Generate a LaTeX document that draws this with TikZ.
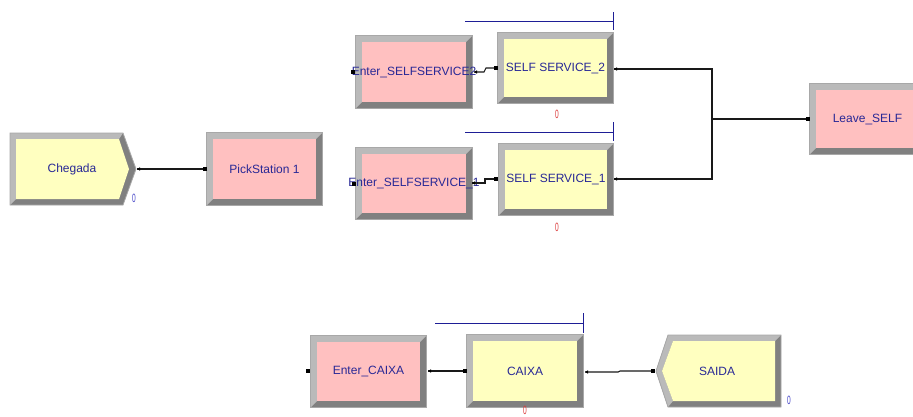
\documentclass[tikz,border=0pt]{standalone}
\usepackage{fontspec}
\setmainfont{Liberation Sans}
\definecolor{beveldark}{RGB}{128,128,128}
\definecolor{bevellight}{RGB}{186,186,186}
\definecolor{bevelrim}{RGB}{168,168,168}
\definecolor{pinkfill}{RGB}{255,192,192}
\definecolor{yellowfill}{RGB}{255,255,192}
\definecolor{labelblue}{RGB}{40,40,150}
\definecolor{queueblue}{RGB}{30,30,150}
\definecolor{countred}{RGB}{220,60,60}
\definecolor{countblue}{RGB}{70,70,200}

\tikzset{
  modframe/.style={rectangle, inner sep=0, draw=none, fill=beveldark},
  modtext/.style={text=labelblue, font=\fontsize{12}{14}\selectfont, inner sep=0},
  rim/.style={draw=bevelrim, line width=0.8pt},
  link/.style={draw=black!90, line width=1.1pt},
  queue/.style={draw=queueblue, line width=1pt},
  counter/.style={font=\fontsize{12}{12}\selectfont, inner sep=0, xscale=0.55},
}

% rectangular module with a bevelled frame: name, x, y, width, height, fill, text
\newcommand\arenabox[7]{%
  \node[modframe, minimum width=#4, minimum height=#5] (#1) at (#2,#3) {};
  \fill[bevellight] (#1.south west) -- (#1.north west) -- (#1.north east)
    -- ([shift={(-6,6)}]#1.north east) -- ([shift={(6,6)}]#1.north west)
    -- ([shift={(6,-6)}]#1.south west) -- cycle;
  \fill[#6] ([shift={(6,6)}]#1.north west) rectangle ([shift={(-6,-6)}]#1.south east);
  \draw[rim] (#1.north west) rectangle (#1.south east);
  \node[modtext] (#1-text) at (#1.center) {#7};
}
% entry point (square) and exit point (small triangle)
\newcommand\entrymark[1]{\fill[black] ([shift={(-2,-2)}]#1) rectangle ([shift={(2,2)}]#1);}
\newcommand\exitmark[1]{\fill[black] (#1) -- ([shift={(3,-1.7)}]#1) -- ([shift={(3,1.7)}]#1) -- cycle;}

\begin{document}
\begin{tikzpicture}[x=1pt, y=-1pt]
\useasboundingbox (0,0) rectangle (913,416);
\fill[white] (0,0) rectangle (913,416);

% ---- Create module: Chegada ----
\fill[beveldark] (10,133) -- (123,133) -- (136,169) -- (123,205) -- (10,205) -- cycle;
\fill[bevellight] (10,205) -- (10,133) -- (123,133) -- (119,139) -- (16,139) -- (16,199) -- cycle;
\fill[yellowfill] (16,139) -- (119,139) -- (129,169) -- (119,199) -- (16,199) -- cycle;
\draw[rim] (10,133) -- (123,133) -- (136,169) -- (123,205) -- (10,205) -- cycle;
\node[modtext] (chegada) at (72,169) {Chegada};

% ---- Dispose module: SAIDA ----
\fill[beveldark] (668,335) -- (781,335) -- (781,407) -- (668,407) -- (656,371) -- cycle;
\fill[bevellight] (656,371) -- (668,335) -- (781,335) -- (775,341) -- (673,341) -- (662,371) -- (673,401) -- (668,407) -- cycle;
\fill[yellowfill] (673,341) -- (775,341) -- (775,401) -- (673,401) -- (662,371) -- cycle;
\draw[rim] (668,335) -- (781,335) -- (781,407) -- (668,407) -- (656,371) -- cycle;
\node[modtext] (saida) at (717,371) {SAIDA};

% ---- rectangular modules ----
\arenabox{pick}{264.5}{169}{115}{72}{pinkfill}{PickStation 1}
\arenabox{enter2}{414}{72}{116}{72}{pinkfill}{Enter\_SELFSERVICE2}
\arenabox{self2}{555.5}{68}{115}{70}{yellowfill}{SELF SERVICE\_2}
\arenabox{enter1}{414}{183.5}{116}{71}{pinkfill}{Enter\_SELFSERVICE\_1}
\arenabox{self1}{556}{179.5}{114}{71}{yellowfill}{SELF SERVICE\_1}
\arenabox{leave}{867.5}{119}{115}{70}{pinkfill}{Leave\_SELF}
\arenabox{entercaixa}{368.5}{371.5}{115}{71}{pinkfill}{Enter\_CAIXA}
\arenabox{caixa}{525}{371}{116}{72}{yellowfill}{CAIXA}

% ---- ports ----
\coordinate (chegada-out) at (137,169);
\coordinate (pick-in) at (205,169);
\coordinate (enter2-in) at (353,72);
\coordinate (enter2-out) at (474,72);
\coordinate (self2-in) at (496,68);
\coordinate (self2-out) at (614,69);
\coordinate (enter1-in) at (354,184);
\coordinate (enter1-out) at (472,183);
\coordinate (self1-in) at (496,179);
\coordinate (self1-out) at (614,179);
\coordinate (join) at (712,119);
\coordinate (leave-in) at (808,119);
\coordinate (entercaixa-in) at (308,371);
\coordinate (entercaixa-out) at (428,371);
\coordinate (caixa-in) at (465,371);
\coordinate (caixa-out) at (585,372);
\coordinate (saida-in) at (653,371);

% ---- connectors ----
\draw[link] (chegada-out) -- (pick-in);
\draw[link] (enter2-out) -- ++(10,0) -- ++(2,-4) -- (self2-in);
\draw[link] (enter1-out) -- ++(13,0) -- ++(0,-4) -- (self1-in);
\draw[link] (self2-out) -| (join);
\draw[link] (self1-out) -| (join);
\draw[link] (join) -- (leave-in);
\draw[link] (entercaixa-out) -- (caixa-in);
\draw[link] (caixa-out) -- ++(33,0) -- ++(2,-1) -- (saida-in);

% ---- port markers ----
\entrymark{pick-in}
\entrymark{enter2-in}
\entrymark{self2-in}
\entrymark{enter1-in}
\entrymark{self1-in}
\entrymark{leave-in}
\entrymark{entercaixa-in}
\entrymark{caixa-in}
\entrymark{saida-in}
\exitmark{chegada-out}
\exitmark{enter2-out}
\exitmark{self2-out}
\exitmark{enter1-out}
\exitmark{self1-out}
\exitmark{entercaixa-out}
\exitmark{caixa-out}

% ---- queues ----
\coordinate (q2-start) at (465,21);
\coordinate (q2-end) at (613,21);
\coordinate (q1-start) at (465,132);
\coordinate (q1-end) at (613,132);
\coordinate (qc-start) at (435,323);
\coordinate (qc-end) at (583,323);
\draw[queue] (q2-start) -- (q2-end) (q2-end) ++(0,-9) -- ++(0,18);
\draw[queue] (q1-start) -- (q1-end) (q1-end) ++(0,-10) -- ++(0,19);
\draw[queue] (qc-start) -- (qc-end) (qc-end) ++(0,-10) -- ++(0,20);

% ---- counters ----
\node[counter, text=countblue] (chegada-count) at (134,198) {0};
\node[counter, text=countred] (self2-count) at (557,114) {0};
\node[counter, text=countred] (self1-count) at (557,227) {0};
\node[counter, text=countred] (caixa-count) at (525,410) {0};
\node[counter, text=countblue] (saida-count) at (789,400) {0};
\end{tikzpicture}
\end{document}
